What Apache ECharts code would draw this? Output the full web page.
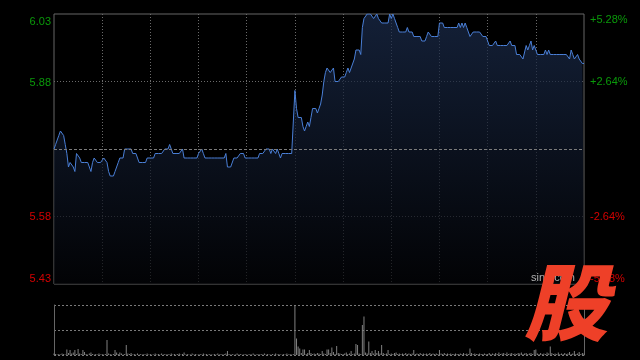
<!DOCTYPE html>
<html><head><meta charset="utf-8">
<script src="https://cdn.jsdelivr.net/npm/echarts@6/dist/echarts.min.js"></script>
<style>html,body{margin:0;padding:0;background:#000}#c{width:640px;height:360px}</style>
</head><body><div id="c"></div>
<script>
const prevClose = 5.73;
const priceMin = 5.43, priceMax = 6.03, priceStep = 0.15;
const pctLabels = ['-5.28%', '-2.64%', '', '+2.64%', '+5.28%'];
const sessions = [['09:30', 150], ['13:00', 181]];
const prices = [
5.73,5.74,5.74,5.76,5.77,5.77,5.76,5.74,5.72,5.69,
5.70,5.70,5.69,5.68,5.72,5.72,5.71,5.70,5.70,5.70,
5.70,5.70,5.69,5.68,5.70,5.71,5.71,5.70,5.70,5.70,
5.70,5.71,5.71,5.70,5.68,5.67,5.67,5.67,5.68,5.69,
5.70,5.71,5.71,5.71,5.73,5.73,5.73,5.73,5.73,5.72,
5.72,5.72,5.71,5.70,5.70,5.70,5.70,5.70,5.71,5.71,
5.71,5.71,5.71,5.72,5.72,5.72,5.72,5.72,5.72,5.73,
5.73,5.73,5.74,5.74,5.72,5.72,5.72,5.72,5.72,5.72,
5.73,5.71,5.71,5.71,5.71,5.71,5.71,5.71,5.71,5.71,
5.72,5.72,5.73,5.72,5.71,5.71,5.71,5.71,5.71,5.71,
5.71,5.71,5.71,5.71,5.71,5.71,5.71,5.72,5.69,5.69,
5.69,5.69,5.71,5.71,5.71,5.71,5.72,5.72,5.72,5.71,
5.71,5.71,5.71,5.71,5.71,5.71,5.71,5.71,5.72,5.72,
5.72,5.72,5.73,5.73,5.73,5.72,5.73,5.73,5.72,5.73,
5.72,5.71,5.72,5.72,5.72,5.72,5.72,5.72,5.72,5.72,
5.86,5.82,5.80,5.80,5.80,5.78,5.77,5.78,5.79,5.78,
5.80,5.82,5.82,5.82,5.81,5.82,5.83,5.85,5.88,5.90,
5.91,5.91,5.90,5.90,5.91,5.88,5.88,5.88,5.88,5.89,
5.89,5.89,5.90,5.91,5.90,5.91,5.91,5.93,5.95,5.95,
5.95,5.94,6.00,6.02,6.02,6.03,6.03,6.03,6.03,6.02,
6.02,6.03,6.02,6.02,6.01,6.01,6.01,6.01,6.01,6.03,
6.02,6.03,6.02,6.01,6.00,5.99,5.99,5.99,5.99,5.99,
6.00,5.99,5.99,5.99,5.98,5.98,5.98,5.98,5.98,5.97,
5.97,5.97,5.98,5.99,5.99,5.98,5.98,5.98,5.98,5.98,
6.01,6.01,6.01,6.00,6.00,6.00,6.00,6.00,6.00,6.00,
6.00,6.00,6.01,6.00,6.01,6.00,6.01,6.00,5.99,5.98,
5.98,5.99,5.99,5.99,5.99,5.99,5.99,5.98,5.98,5.98,
5.98,5.96,5.96,5.96,5.96,5.97,5.96,5.96,5.96,5.96,
5.96,5.96,5.96,5.96,5.97,5.96,5.96,5.96,5.94,5.94,
5.94,5.94,5.93,5.93,5.96,5.95,5.96,5.97,5.95,5.96,
5.95,5.94,5.94,5.94,5.94,5.94,5.95,5.94,5.95,5.94,
5.94,5.94,5.94,5.94,5.94,5.94,5.94,5.94,5.94,5.94,
5.94,5.93,5.95,5.94,5.93,5.93,5.94,5.93,5.93,5.92,
5.92
];
const volumes = [
3,2,1,2,1,3,2,1,11,4,
10,3,5,10,2,12,3,2,10,6,
2,1,3,5,2,1,2,1,3,1,
2,1,2,30,3,2,1,2,10,5,
2,5,3,1,2,20,3,2,4,1,
2,1,3,1,2,1,2,1,3,1,
2,1,1,3,1,2,1,3,1,2,
1,2,1,3,1,2,1,2,3,1,
2,5,1,2,1,1,3,1,2,1,
1,2,1,3,1,2,1,2,1,1,
2,1,3,1,2,1,2,3,8,2,
1,2,1,1,3,1,2,1,1,2,
1,1,2,1,3,1,1,2,1,2,
1,3,1,2,1,1,2,1,3,1,
2,1,1,2,1,3,1,2,1,2,
100,33,17,13,4,11,11,2,4,10,
4,2,3,2,4,3,2,8,3,2,
11,11,4,15,6,2,18,4,3,2,
2,3,5,2,3,8,2,3,22,20,
3,2,60,77,5,3,27,4,8,3,
10,4,8,3,20,4,2,3,10,2,
3,2,4,5,2,3,2,3,2,4,
2,3,2,3,10,2,3,2,4,2,
3,2,3,2,4,2,3,2,3,2,
10,3,2,4,2,3,2,3,2,2,
3,2,2,3,2,4,2,3,2,13,
4,2,3,2,2,3,2,2,3,2,
2,4,2,3,2,4,2,5,2,3,
4,2,5,2,3,4,2,3,2,4,
3,5,2,3,4,2,3,4,2,10,
11,3,2,4,2,3,2,5,3,17,
4,2,3,2,5,2,3,2,4,2,
3,6,2,3,8,2,3,6,2,4,
3
];
const volMax = 100;

const categories = [];
sessions.forEach(([start, n]) => {
  let [h, m] = start.split(':').map(Number);
  for (let i = 0; i < n; i++) {
    categories.push(String(h).padStart(2, '0') + ':' + String(m).padStart(2, '0'));
    m++; if (m === 60) { m = 0; h++; }
  }
});

const font = '"Liberation Sans", Arial, sans-serif';
const GREEN = '#0a9a0a', RED = '#d40000';
const dotted = { color: '#6a6a6a', type: [1, 2], width: 1 };

const chart = echarts.init(document.getElementById('c'), null, { renderer: 'canvas' });
chart.setOption({
  backgroundColor: '#000',
  animation: false,
  grid: [
    { left: 54, right: 56, top: 14, height: 270, show: true, borderColor: '#666', borderWidth: 1, backgroundColor: 'transparent' },
    { left: 54, right: 56, top: 305, height: 50, show: false }
  ],
  xAxis: [
    { type: 'category', gridIndex: 0, data: categories, boundaryGap: false,
      axisLine: { show: false }, axisTick: { show: false }, axisLabel: { show: false },
      splitLine: { show: true, interval: (i) => i > 0 && i < categories.length - 1 && i % 30 === 0, lineStyle: dotted } },
    { type: 'category', gridIndex: 1, data: categories, boundaryGap: false,
      axisLine: { show: false }, axisTick: { show: false }, axisLabel: { show: false }, splitLine: { show: false } }
  ],
  yAxis: [
    { type: 'value', gridIndex: 0, min: priceMin, max: priceMax, interval: priceStep, position: 'left',
      axisLine: { show: false }, axisTick: { show: false },
      axisLabel: { margin: 3, fontFamily: font, fontSize: 11,
        verticalAlignMinLabel: 'bottom', verticalAlignMaxLabel: 'top',
        formatter: (v) => {
          if (Math.abs(v - prevClose) < 0.001) return '';
          return (v > prevClose ? '{g|' : '{r|') + v.toFixed(2) + '}';
        },
        rich: { g: { color: GREEN, fontFamily: font, fontSize: 11, padding: [2, 0, 0, 0] }, r: { color: RED, fontFamily: font, fontSize: 11 } } },
      splitLine: { show: true, lineStyle: { color: ['transparent', '#6a6a6a', 'transparent', '#6a6a6a', 'transparent'], type: [1, 2], width: 1 } } },
    { type: 'value', gridIndex: 0, min: -5.28, max: 5.28, interval: 2.64, position: 'right',
      axisLine: { show: false }, axisTick: { show: false }, splitLine: { show: false },
      axisLabel: { margin: 6, fontFamily: font, fontSize: 11,
        verticalAlignMinLabel: 'bottom', verticalAlignMaxLabel: 'top',
        formatter: (v, i) => {
          const t = pctLabels[i] || '';
          if (!t) return '';
          return (t[0] === '+' ? '{g|' : '{r|') + t + '}';
        },
        rich: { g: { color: GREEN, fontFamily: font, fontSize: 11 }, r: { color: RED, fontFamily: font, fontSize: 11 } } } },
    { type: 'value', gridIndex: 1, min: 0, max: volMax, interval: volMax / 2, position: 'left',
      axisLine: { show: true, lineStyle: { color: '#666', width: 1 } }, axisTick: { show: false }, axisLabel: { show: false },
      splitLine: { show: true, lineStyle: { color: '#7a7a7a', type: [2, 2], width: 1 } } },
    { type: 'value', gridIndex: 1, min: 0, max: volMax, position: 'right',
      axisLine: { show: true, lineStyle: { color: '#666', width: 1 } }, axisTick: { show: false }, axisLabel: { show: false },
      splitLine: { show: false } }
  ],
  series: [
    { type: 'line', xAxisIndex: 0, yAxisIndex: 0, data: prices, showSymbol: false, symbol: 'none',
      lineStyle: { color: '#4a7fd6', width: 1 },
      areaStyle: { origin: 'start', color: new echarts.graphic.LinearGradient(0, 14, 0, 284, [
        { offset: 0, color: '#1c2d4e' }, { offset: 1, color: '#030407' }], true) },
      markLine: { silent: true, symbol: 'none', label: { show: false },
        lineStyle: { color: '#7c7c7c', type: [3, 2], width: 1 },
        data: [{ yAxis: prevClose }] } },
    { type: 'bar', xAxisIndex: 1, yAxisIndex: 2, data: volumes, barWidth: 1,
      itemStyle: { color: '#808080' } }
  ],
  graphic: [
    { type: 'text', left: 531, top: 272, z: 50, style: { text: 'sina.com', fill: '#b0b0b0', font: '11px ' + font } },
    { type: 'text', left: 524, top: 260, z: 100, style: { text: '股', fill: '#ee4028', font: 'italic 900 84px "Noto Sans CJK SC"' } }
  ]
});
</script>
</body></html>
